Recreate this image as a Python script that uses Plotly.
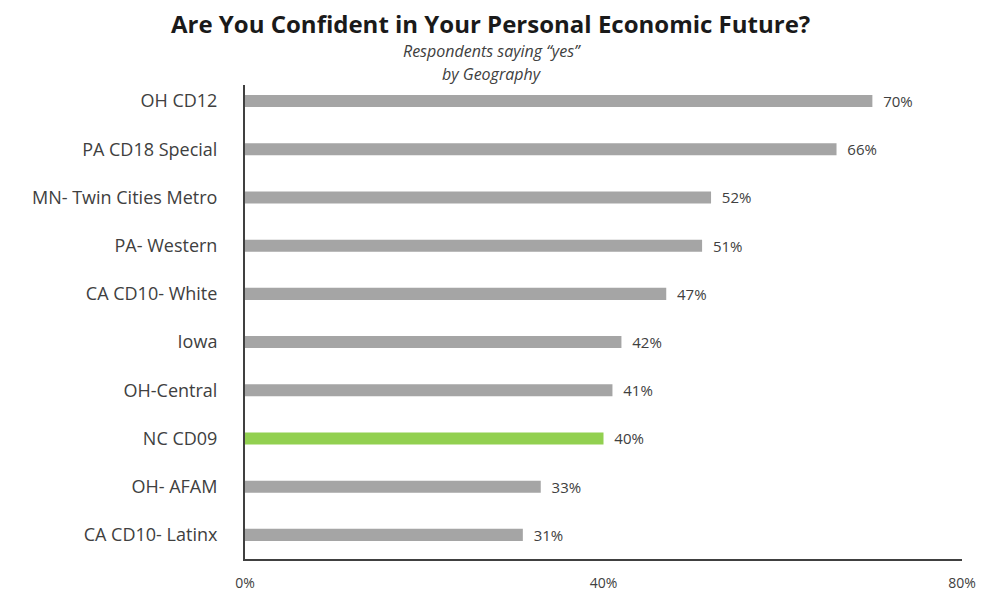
"""Horizontal bar chart: confidence in personal economic future by geography."""

import plotly.graph_objects as go

geographies = [
    "OH CD12",
    "PA CD18 Special",
    "MN- Twin Cities Metro",
    "PA- Western",
    "CA CD10- White",
    "Iowa",
    "OH-Central",
    "NC CD09",
    "OH- AFAM",
    "CA CD10- Latinx",
]
pct_yes = [70, 66, 52, 51, 47, 42, 41, 40, 33, 31]
highlight = "NC CD09"

x_ticks = [0, 40, 80]
x_tick_labels = ["0%", "40%", "80%"]

GRAY = "#a5a5a5"
GREEN = "#92d050"
TEXT = "#404040"
FONT = "Open Sans, sans-serif"

W, H = 983, 592
M_L, M_R, M_T, M_B = 245, 21, 85, 33

bar_colors = [GREEN if g == highlight else GRAY for g in geographies]

fig = go.Figure()

fig.add_trace(
    go.Bar(
        y=geographies,
        x=pct_yes,
        orientation="h",
        marker_color=bar_colors,
        marker_line_width=0,
        width=0.25,
        text=[f"  {v}%" for v in pct_yes],
        textposition="outside",
        constraintext="none",
        textfont={"size": 15, "color": TEXT, "family": FONT},
        cliponaxis=False,
    )
)

fig.update_layout(
    width=W,
    height=H,
    margin={"l": M_L, "r": M_R, "t": M_T, "b": M_B, "autoexpand": False},
    paper_bgcolor="white",
    plot_bgcolor="white",
    showlegend=False,
    font={"family": FONT, "color": TEXT},
    xaxis={
        "range": [0, 80],
        "tickvals": x_ticks,
        "ticktext": x_tick_labels,
        "showgrid": False,
        "zeroline": False,
        "showline": True,
        "linecolor": "#404040",
        "linewidth": 2,
        "ticks": "outside",
        "ticklen": 10,
        "tickcolor": "rgba(0,0,0,0)",
        "tickfont": {"size": 14, "color": TEXT},
        "automargin": False,
    },
    yaxis={
        "range": [9.5, -0.333],
        "showgrid": False,
        "zeroline": False,
        "showline": True,
        "linecolor": "#404040",
        "linewidth": 2,
        "ticks": "outside",
        "ticklen": 22,
        "tickcolor": "rgba(0,0,0,0)",
        "tickfont": {"size": 18, "color": TEXT},
        "automargin": False,
    },
)

# Titles placed in pixel positions, converted to paper coordinates
plot_w = W - M_L - M_R
plot_h = H - M_T - M_B


def px_to_paper(px, py):
    return (px - M_L) / plot_w, (H - M_B - py) / plot_h


titles = [
    ("<b>Are You Confident in Your Personal Economic Future?</b>", 490, 23, 24, "#1a1a1a"),
    ("<i>Respondents saying “yes”</i>", 492, 51, 16, TEXT),
    ("<i>by Geography</i>", 492, 74, 16, TEXT),
]
for text, cx, cy, size, color in titles:
    ax, ay = px_to_paper(cx, cy)
    fig.add_annotation(
        text=text, x=ax, y=ay, xref="paper", yref="paper",
        xanchor="center", yanchor="middle", showarrow=False,
        font={"size": size, "color": color, "family": FONT},
    )

fig.write_html(
    "out.html",
    config={"displayModeBar": False},
    post_script="document.body.style.margin='0';",
)
